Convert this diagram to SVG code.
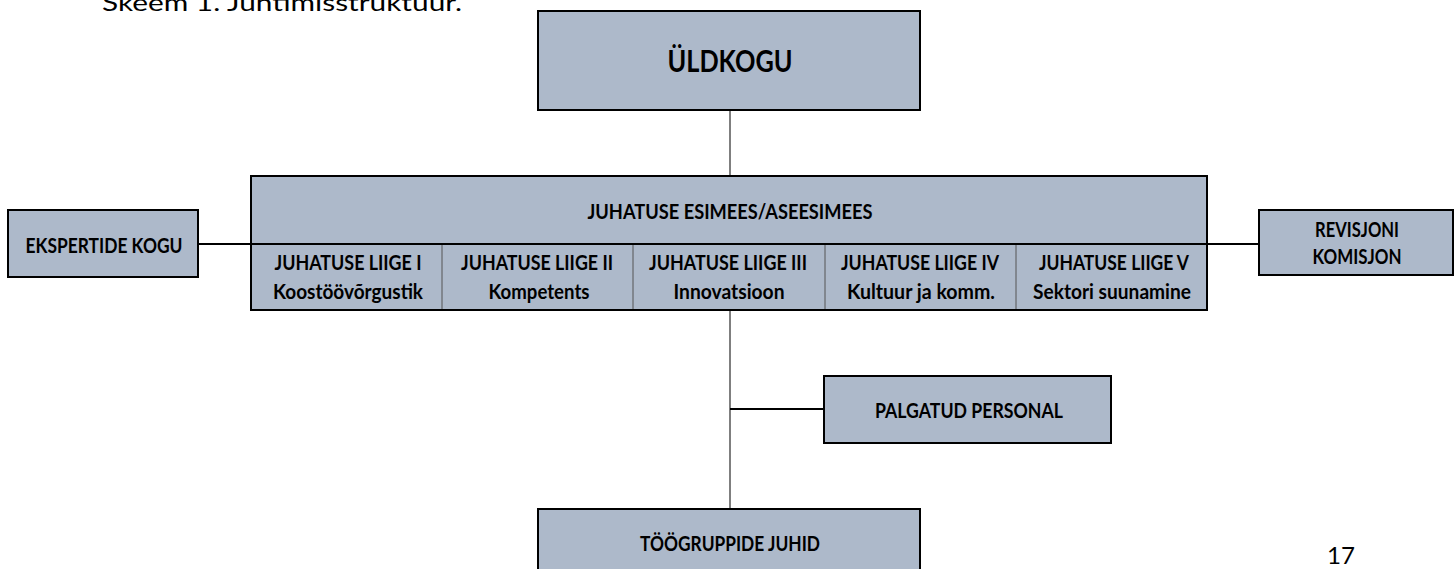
<svg xmlns="http://www.w3.org/2000/svg" width="1454" height="569" viewBox="0 0 1454 569">
<style>
.box{fill:#ADB9CA;stroke:#000;stroke-width:2}
.b{font-family:Lato,"Liberation Sans",sans-serif;font-weight:bold;font-size:21px;fill:#000;text-anchor:middle}
.r{font-family:Lato,"Liberation Sans",sans-serif;fill:#000}
.gray{stroke:#7f7f7f;stroke-width:2;fill:none}
.dark{stroke:#000;stroke-width:2;fill:none}
.div{stroke:#555;stroke-width:1;fill:none}
</style>
<rect width="1454" height="569" fill="#fff"/>
<text class="r" x="102" y="11" font-size="24" textLength="360" lengthAdjust="spacingAndGlyphs">Skeem 1. Juhtimisstruktuur.</text>
<g id="connectors">
<line class="gray" x1="730" y1="110" x2="730" y2="176"/>
<line class="gray" x1="730" y1="310" x2="730" y2="509"/>
<line class="dark" x1="198" y1="244" x2="251" y2="244"/>
<line class="dark" x1="1207" y1="244" x2="1259" y2="244"/>
<line class="dark" x1="730" y1="409" x2="824" y2="409"/>
</g>
<g id="uldkogu">
<rect class="box" x="538" y="11" width="382" height="99"/>
<text class="b" x="730" y="72" style="font-size:31px" textLength="125" lengthAdjust="spacingAndGlyphs">ÜLDKOGU</text>
</g>
<g id="juhatus">
<rect class="box" x="251" y="176" width="956" height="134"/>
<line class="dark" x1="251" y1="244" x2="1207" y2="244"/>
<line class="div" x1="442" y1="245" x2="442" y2="309"/>
<line class="div" x1="633" y1="245" x2="633" y2="309"/>
<line class="div" x1="825" y1="245" x2="825" y2="309"/>
<line class="div" x1="1016" y1="245" x2="1016" y2="309"/>
<text class="b" x="730" y="219" textLength="285" lengthAdjust="spacingAndGlyphs">JUHATUSE ESIMEES/ASEESIMEES</text>
</g>
<g id="liige1">
<text class="b" x="348" y="270" textLength="147" lengthAdjust="spacingAndGlyphs">JUHATUSE LIIGE I</text>
<text class="b" x="348" y="299" textLength="150" lengthAdjust="spacingAndGlyphs">Koostöövõrgustik</text>
</g>
<g id="liige2">
<text class="b" x="537" y="270" textLength="152" lengthAdjust="spacingAndGlyphs">JUHATUSE LIIGE II</text>
<text class="b" x="539" y="299" textLength="101" lengthAdjust="spacingAndGlyphs">Kompetents</text>
</g>
<g id="liige3">
<text class="b" x="728" y="270" textLength="158" lengthAdjust="spacingAndGlyphs">JUHATUSE LIIGE III</text>
<text class="b" x="729" y="299" textLength="111" lengthAdjust="spacingAndGlyphs">Innovatsioon</text>
</g>
<g id="liige4">
<text class="b" x="920" y="270" textLength="158" lengthAdjust="spacingAndGlyphs">JUHATUSE LIIGE IV</text>
<text class="b" x="921" y="299" textLength="148" lengthAdjust="spacingAndGlyphs">Kultuur ja komm.</text>
</g>
<g id="liige5">
<text class="b" x="1114" y="270" textLength="150" lengthAdjust="spacingAndGlyphs">JUHATUSE LIIGE V</text>
<text class="b" x="1112" y="299" textLength="158" lengthAdjust="spacingAndGlyphs">Sektori suunamine</text>
</g>
<g id="eksperdid">
<rect class="box" x="8" y="210" width="190" height="67"/>
<text class="b" x="104" y="253" textLength="157" lengthAdjust="spacingAndGlyphs">EKSPERTIDE KOGU</text>
</g>
<g id="revisjon">
<rect class="box" x="1259" y="210" width="194" height="65"/>
<text class="b" x="1357" y="237" textLength="84" lengthAdjust="spacingAndGlyphs">REVISJONI</text>
<text class="b" x="1357" y="264" textLength="89" lengthAdjust="spacingAndGlyphs">KOMISJON</text>
</g>
<g id="palgatud">
<rect class="box" x="824" y="376" width="287" height="67"/>
<text class="b" x="969" y="418" textLength="188" lengthAdjust="spacingAndGlyphs">PALGATUD PERSONAL</text>
</g>
<g id="toogrupid">
<rect class="box" x="538" y="509" width="382" height="80"/>
<text class="b" x="730" y="551" textLength="180" lengthAdjust="spacingAndGlyphs">TÖÖGRUPPIDE JUHID</text>
</g>
<text class="r" x="1327" y="564" font-size="24" textLength="28" lengthAdjust="spacingAndGlyphs">17</text>
</svg>
